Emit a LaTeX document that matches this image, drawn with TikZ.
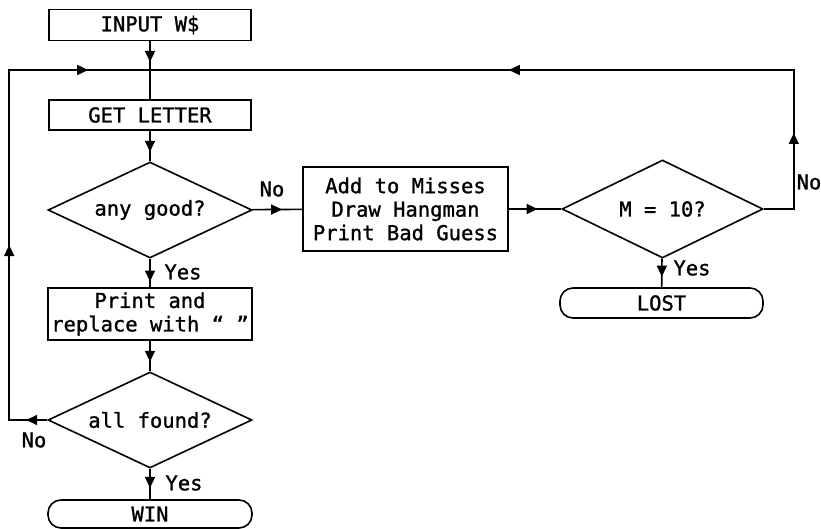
\documentclass[tikz,border=0pt]{standalone}
\usepackage{fontspec}
\newfontfamily\chartfont[FakeBold=1.2]{DejaVu Sans Mono}
\usetikzlibrary{shapes.geometric,arrows.meta,decorations.markings}
\begin{document}
\begin{tikzpicture}[x=1pt,y=-1pt,
  line width=1.6pt,
  font=\chartfont\fontsize{20.5}{23.5}\selectfont,
  tip/.tip={Triangle[length=11pt,width=10pt]},
  box/.style={draw, rectangle, inner sep=0pt, align=center},
  decision/.style={draw, diamond, inner sep=0pt, shape aspect=2.125,
    minimum width=204pt, minimum height=96pt},
  terminal/.style={draw, rectangle, rounded corners=13pt, inner sep=0pt},
  midtip/.style={postaction={decorate},
    decoration={markings, mark=at position #1 with {\arrow{tip}}}},
  lbl/.style={inner sep=0pt}
]
\useasboundingbox (0,0) rectangle (821,529);

% process boxes and decisions
\node[box, minimum width=202pt, minimum height=31pt] (input) at (150,25) {INPUT W\$};
\node[box, minimum width=202pt, minimum height=30pt] (get) at (150,115) {GET LETTER};
\node[decision] (good) at (150,210) {any good?};
\node[box, minimum width=205pt, minimum height=84pt] (misses) at (405.5,209) {Add to Misses\\Draw Hangman\\Print Bad Guess};
\node[decision, shape aspect=2.05, minimum width=201pt, minimum height=98pt] (m10) at (662.5,209) {M = 10?};
\node[terminal, minimum width=203pt, minimum height=30pt] (lost) at (661.5,303) {LOST};
\node[box, minimum width=204pt, minimum height=52pt] (print) at (150,314) {Print and\\replace with “ ”};
\node[decision] (found) at (150,420) {all found?};
\node[terminal, minimum width=204pt, minimum height=28pt] (win) at (150,514) {WIN};

% junction where both loops rejoin the main flow
\coordinate (j) at (150,70);
\coordinate (lc) at ([xshift=-38pt]found.west);
\coordinate (ltop) at (lc |- j);
\coordinate (rc) at ([xshift=30pt]m10.east);
\coordinate (rtop) at (rc |- j);

% main flow
\draw[midtip=0.72] (input) -- (j);
\draw (j) -- (get);
\draw[midtip=0.69] (get) -- (good);
\draw[midtip=0.6] (good) -- (misses);
\draw[midtip=0.55] (misses) -- (m10);
\draw[midtip=0.63] (m10) -- (lost);
\draw[midtip=0.8] (good) -- (print);
\draw[midtip=0.69] (print) -- (found);
\draw[midtip=0.63] (found) -- (win);

% return loops
\draw[postaction={decorate}, decoration={markings,
    mark=at position 21pt with {\arrow{tip}},
    mark=at position 213pt with {\arrow{tip}},
    mark=at position 467pt with {\arrow{tip}}}]
  (found.west) -- (lc) -- (ltop) -- (j);
\draw[postaction={decorate}, decoration={markings,
    mark=at position 106pt with {\arrow{tip}},
    mark=at position 454pt with {\arrow{tip}}}]
  (m10.east) -- (rc) -- (rtop) -- (j);

% branch labels
\node[lbl] (gno) at (272,189) {No};
\node[lbl] (gyes) at (183,272) {Yes};
\node[lbl] (mno) at (809,182) {No};
\node[lbl] (myes) at (692,268) {Yes};
\node[lbl] (fno) at (34,440) {No};
\node[lbl] (fyes) at (184,483) {Yes};
\end{tikzpicture}
\end{document}
